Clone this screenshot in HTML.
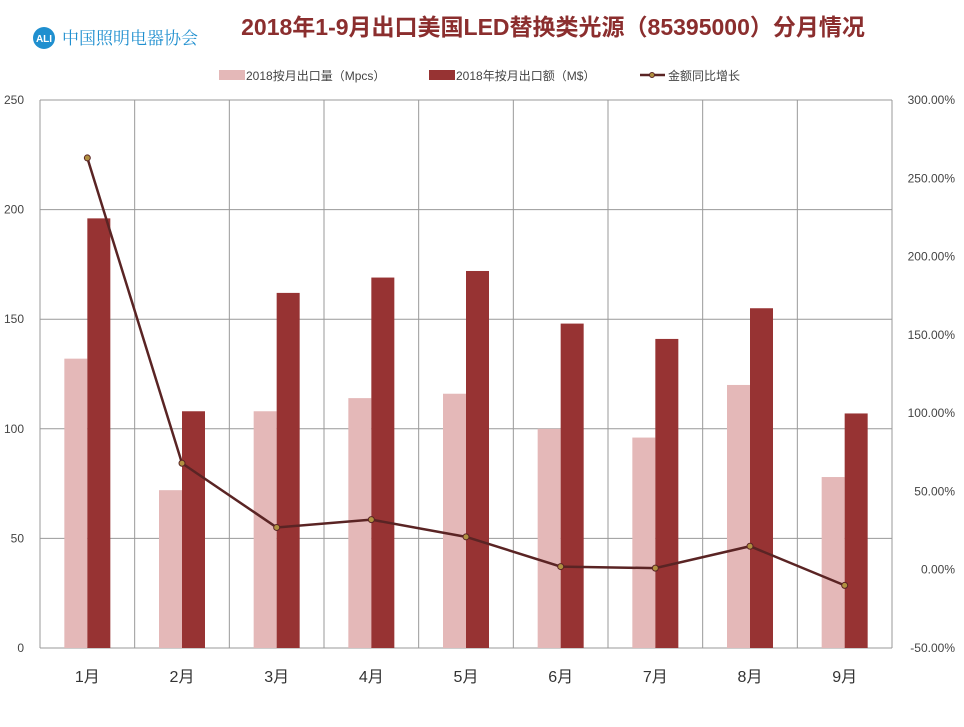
<!DOCTYPE html>
<html><head><meta charset="utf-8"><style>
body{margin:0;background:#fff;width:964px;height:722px;overflow:hidden;font-family:"Liberation Sans","Noto Sans CJK SC",sans-serif}
</style></head><body>
<svg width="964" height="722" style="font-family:'Liberation Sans','Noto Sans CJK SC',sans-serif">
<g>
<circle cx="44" cy="38" r="11" fill="#1f8fcf"/><text x="44" y="42" font-size="10" fill="#fff" text-anchor="middle" font-weight="bold">ALI</text>
<text x="62" y="44" font-size="17" fill="#1f8fcf" font-family="'Noto Serif CJK SC',serif">中国照明电器协会</text></g>
<text x="553" y="35" font-size="23" font-weight="bold" fill="#8b2e2e" text-anchor="middle">2018年1-9月出口美国LED替换类光源（85395000）分月情况</text>
<g font-size="12" fill="#444">
<rect x="219" y="70" width="26" height="10" fill="#e4b8b8"/><text x="246" y="80">2018按月出口量（Mpcs）</text>
<rect x="429" y="70" width="26" height="10" fill="#973333"/><text x="456" y="80">2018年按月出口额（M$）</text>
<line x1="640" y1="75" x2="665" y2="75" stroke="#5a2424" stroke-width="2.5"/><circle cx="652" cy="75" r="2.5" fill="#b09040" stroke="#5a2424"/><text x="668" y="80">金额同比增长</text>
</g>
<g id="grid"></g><g id="bars"></g><g id="line"></g><g id="axes"></g>
</svg>
<script>
const categories=["1月","2月","3月","4月","5月","6月","7月","8月","9月"];
const qty=[132,72,108,114,116,100,96,120,78];
const value=[196,108,162,169,172,148,141,155,107];
const growth=[263,68,27,32,21,2,1,15,-10];
const leftTicks=[0,50,100,150,200,250];
const rightTicks=[-50,0,50,100,150,200,250,300];
const NS="http://www.w3.org/2000/svg";
const X0=40,X1=892,Y0=648,Y1=100;
const bw=(X1-X0)/categories.length;
const yL=v=>Y0-(v/250)*(Y0-Y1);
const yR=v=>Y0-((v+50)/350)*(Y0-Y1);
function mk(t,a,p){const e=document.createElementNS(NS,t);for(const k in a)e.setAttribute(k,a[k]);p.appendChild(e);return e;}
const grid=document.getElementById('grid'),bars=document.getElementById('bars'),line=document.getElementById('line'),axes=document.getElementById('axes');
leftTicks.forEach(t=>{const l=mk('line',{x1:X0,x2:X1,y1:yL(t),y2:yL(t),stroke:'#999','stroke-width':1},grid);


const tx=mk('text',{x:24,y:yL(t)+4,'font-size':12,fill:'#444','text-anchor':'end'},axes);tx.textContent=t;

});
rightTicks.forEach(t=>{const tx=mk('text',{x:955,y:yR(t)+4,'font-size':12,fill:'#444','text-anchor':'end'},axes);tx.textContent=t.toFixed(2)+'%';

});
for(let i=0;i<=categories.length;i++){const l=mk('line',{x1:X0+i*bw,x2:X0+i*bw,y1:Y1,y2:Y0,stroke:'#999','stroke-width':1},grid);

}
categories.forEach((c,i)=>{const cx=X0+i*bw+bw/2;
const b1=mk('rect',{x:cx-23,y:yL(qty[i]),width:23,height:Y0-yL(qty[i]),fill:'#e4b8b8'},bars);


const b2=mk('rect',{x:cx,y:yL(value[i]),width:23,height:Y0-yL(value[i]),fill:'#973333'},bars);


const tx=mk('text',{x:cx,y:682,'font-size':16,fill:'#333','text-anchor':'middle'},axes);tx.textContent=c;

});
const pts=growth.map((g,i)=>[X0+i*bw+bw/2,yR(g)]);
const pl=mk('polyline',{points:pts.map(p=>p.join(',')).join(' '),fill:'none',stroke:'#5a2424','stroke-width':2.5},line);


pts.forEach((p,i)=>{const c=mk('circle',{cx:p[0],cy:p[1],r:3,fill:'#b09040',stroke:'#5a2424','stroke-width':1},line);

});
</script>
</body></html>
